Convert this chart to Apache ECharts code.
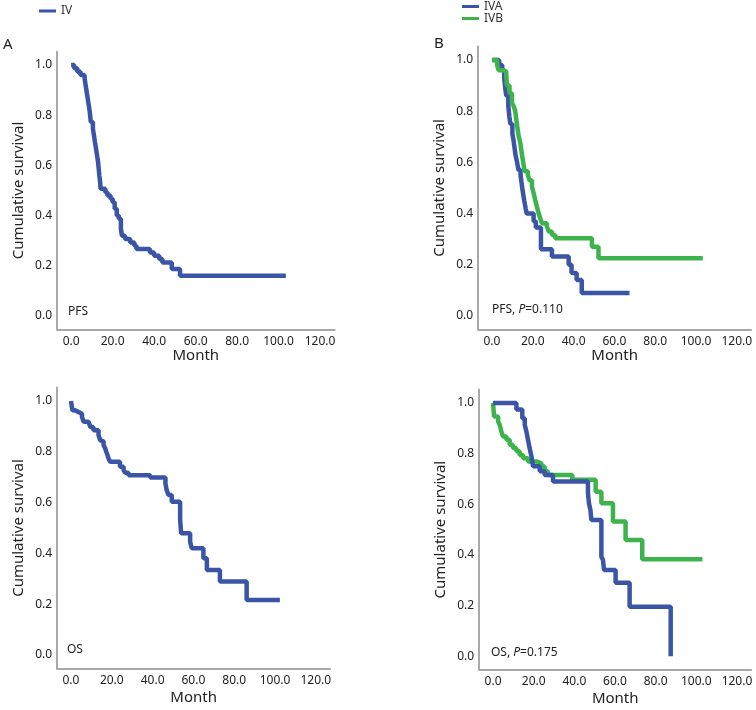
<!DOCTYPE html>
<html>
<head>
<meta charset="utf-8">
<script src="https://cdn.jsdelivr.net/npm/echarts@6/dist/echarts.min.js"></script>
<style>html,body{margin:0;padding:0;background:#fff}#c{width:756px;height:710px}</style>
</head>
<body>
<div id="c"></div>
<script>
// ---- data (months, cumulative survival) ----
const xTicks = [0, 20, 40, 60, 80, 100, 120];
const yTicks = [0, 0.2, 0.4, 0.6, 0.8, 1.0];

const pfsIV_t = [0,1.5,3,4.5,6.5,7,7.5,8,8.5,9,9.5,10.5,11,11.5,12,12.5,13,13.3,13.6,14,14.2,16.5,17.5,19,20,21,22,23,24,24.5,26,28.5,30.5,31.5,38,40,42.5,44,48.5,52.5,103.5];
const pfsIV_s = [1,0.987,0.973,0.96,0.947,0.92,0.893,0.867,0.84,0.813,0.773,0.747,0.72,0.693,0.667,0.64,0.613,0.587,0.56,0.533,0.507,0.493,0.48,0.467,0.453,0.427,0.40,0.387,0.347,0.32,0.307,0.293,0.28,0.267,0.253,0.24,0.227,0.213,0.187,0.16,0.16];

const pfsIVA_t = [0,3.5,5,6,6.5,7,8,8.5,9,10,10.5,11,11.5,12.3,13,14,14.5,15,15.8,16.5,17,20.4,21.5,24,29.4,37.6,39,41.5,44,67.4];
const pfsIVA_s = [1,0.98,0.96,0.93,0.89,0.86,0.82,0.78,0.75,0.71,0.69,0.66,0.63,0.60,0.57,0.55,0.52,0.49,0.45,0.42,0.40,0.37,0.345,0.26,0.232,0.2,0.167,0.14,0.089,0.089];

const pfsIVB_t = [0,2.5,3.3,5.5,7,7.3,8.6,9.8,10.6,11.4,12.2,13,13.9,14.7,15.5,16,17.6,18.4,19.6,20.4,21.2,22,22.9,23.7,24.5,26.9,27.8,29.4,31,49,52.2,103.3];
const pfsIVB_s = [1,0.98,0.96,0.955,0.94,0.90,0.87,0.83,0.82,0.80,0.75,0.707,0.675,0.63,0.59,0.565,0.55,0.53,0.505,0.48,0.453,0.427,0.40,0.38,0.362,0.35,0.33,0.316,0.303,0.27,0.225,0.225];

const osIV_t = [0,0.7,2,3.8,5.4,6.2,8.6,9.5,11,13.5,14.3,15.2,16,16.8,17.3,17.9,18.4,19.2,24,25.8,26.6,28.2,38.8,46.3,46.9,47.8,49.4,53.5,54,58.4,59.2,64.9,66.6,73,86.1,102.4];
const osIV_s = [1,0.963,0.956,0.95,0.937,0.918,0.911,0.898,0.885,0.866,0.846,0.84,0.826,0.813,0.80,0.787,0.774,0.761,0.741,0.728,0.717,0.708,0.699,0.675,0.649,0.63,0.603,0.531,0.479,0.446,0.42,0.381,0.335,0.289,0.217,0.217];

const osIVA_t = [0,11.5,14.4,15.6,16.4,17.2,18,18.9,19.7,23,25.4,29.5,46.7,47.2,47.9,48.4,53.3,54.1,54.6,60.3,67.2,87.4];
const osIVA_s = [1,0.974,0.94,0.914,0.888,0.855,0.822,0.789,0.75,0.73,0.716,0.69,0.644,0.604,0.578,0.538,0.393,0.38,0.34,0.29,0.195,0.0];

const osIVB_t = [0,0.5,2.5,3.3,4.1,4.9,6.6,8.2,9.8,11.5,13.1,14.8,17.2,21.3,23.8,25.4,27,39,50.5,53.3,59,65.2,73.4,103];
const osIVB_s = [1,0.947,0.927,0.914,0.888,0.868,0.855,0.835,0.822,0.809,0.795,0.782,0.769,0.762,0.749,0.73,0.716,0.697,0.65,0.604,0.532,0.459,0.383,0.383];

// ---- styling ----
const BLUE = '#3a55a6';
const GREEN = '#3cb44b';
const FONT = 'Noto Sans';

const pair = (t, s) => t.map((v, i) => [v, s[i]]);

const grids = [
  {left: 57, top: 51.7, width: 277.6, height: 277.6},
  {left: 478.1, top: 46.4, width: 273, height: 283},
  {left: 57.1, top: 387.5, width: 273, height: 281},
  {left: 479.2, top: 389.6, width: 272, height: 280}
];
const xNameGaps = [17, 17, 22, 22];

const axisLine = {show: true, onZero: false, lineStyle: {color: '#a9a9a9', width: 2}};

const xAxes = grids.map((g, i) => ({
  type: 'value', gridIndex: i, min: -6.8, max: 127,
  axisLine: axisLine, axisTick: {show: false}, splitLine: {show: false},
  axisLabel: {customValues: xTicks, formatter: v => v.toFixed(1), color: '#222', fontSize: 12, fontFamily: FONT, margin: 6},
  name: 'Month', nameLocation: 'middle', nameGap: xNameGaps[i],
  nameTextStyle: {color: '#222', fontSize: 15, fontFamily: FONT}
}));
const yAxes = grids.map((g, i) => ({
  type: 'value', gridIndex: i, min: -0.053, max: 1.053,
  axisLine: axisLine, axisTick: {show: false}, splitLine: {show: false},
  axisLabel: {customValues: yTicks, formatter: v => v.toFixed(1), color: '#222', fontSize: 12, fontFamily: FONT, margin: 5},
  name: 'Cumulative survival', nameLocation: 'middle', nameGap: 31,
  nameTextStyle: {color: '#222', fontSize: 15, fontFamily: FONT}
}));

function km(name, idx, t, s, color) {
  return {
    name: name, type: 'line', step: 'end', xAxisIndex: idx, yAxisIndex: idx,
    data: pair(t, s), showSymbol: false, symbol: 'none',
    lineStyle: {color: color, width: 4.5}, itemStyle: {color: color},
    animation: false, silent: true
  };
}

const series = [
  km('IV', 0, pfsIV_t, pfsIV_s, BLUE),
  km('IVA', 1, pfsIVA_t, pfsIVA_s, BLUE),
  km('IVB', 1, pfsIVB_t, pfsIVB_s, GREEN),
  km('IV', 2, osIV_t, osIV_s, BLUE),
  km('IVB', 3, osIVB_t, osIVB_s, GREEN),
  km('IVA', 3, osIVA_t, osIVA_s, BLUE)
];

function txt(x, y, t, size) {
  return {type: 'text', left: x, top: y, silent: true,
    style: {text: t, fill: '#222', fontSize: size, fontFamily: FONT}};
}
const rich = {
  a: {fontSize: 12, fontFamily: FONT, fill: '#222', color: '#222'},
  i: {fontSize: 12, fontFamily: FONT, fill: '#222', color: '#222', fontStyle: 'italic'}
};

const option = {
  backgroundColor: '#fff',
  animation: false,
  grid: grids,
  xAxis: xAxes,
  yAxis: yAxes,
  legend: [
    {data: ['IV'], left: 39, top: 5, padding: 0, itemWidth: 17, itemHeight: 3, icon: 'rect', itemGap: 0,
     textStyle: {fontSize: 12, lineHeight: 11, color: '#333', fontFamily: FONT}, selectedMode: false},
    {data: ['IVA', 'IVB'], orient: 'vertical', left: 462, top: 0.5, padding: 0, itemWidth: 17, itemHeight: 3, icon: 'rect', itemGap: 0,
     textStyle: {fontSize: 12, lineHeight: 11, color: '#333', fontFamily: FONT}, selectedMode: false}
  ],
  graphic: [
    txt(3, 37, 'A', 15),
    txt(434, 36, 'B', 15),
    txt(68, 306, 'PFS', 12),
    {type: 'text', left: 492, top: 304, silent: true, style: {text: '{a|PFS, }{i|P}{a|=0.110}', rich: rich, fontFamily: FONT}},
    txt(67, 644, 'OS', 12),
    {type: 'text', left: 491, top: 647, silent: true, style: {text: '{a|OS, }{i|P}{a|=0.175}', rich: rich, fontFamily: FONT}}
  ],
  series: series
};

const chart = echarts.init(document.getElementById('c'), null, {renderer: 'canvas'});
chart.setOption(option);
</script>
</body>
</html>
